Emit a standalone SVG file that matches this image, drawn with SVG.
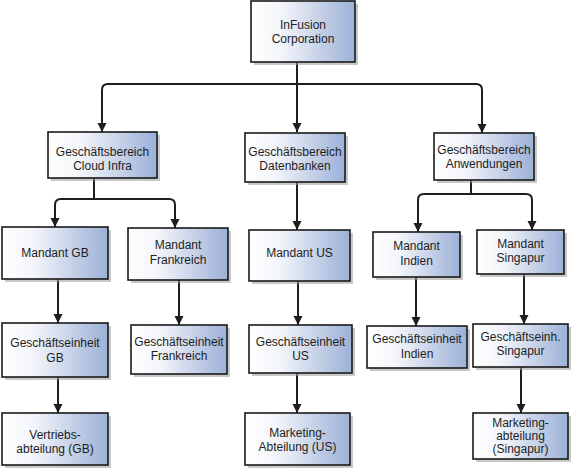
<svg xmlns="http://www.w3.org/2000/svg" width="573" height="473" viewBox="0 0 573 473">
<style>
.box{fill:url(#g);stroke:#1a1a1a;stroke-width:1.6}
.sh{fill:#9a9a9a;opacity:0.55}
.t{font-family:"Liberation Sans",Arial,sans-serif;font-size:12px;fill:#1e1e1e;text-anchor:middle}
.c{fill:none;stroke:#1e1e1e;stroke-width:2;marker-end:url(#a)}
.l{fill:none;stroke:#1e1e1e;stroke-width:2}
</style>
<defs>
<linearGradient id="g" x1="0" y1="0" x2="1" y2="0">
<stop offset="0" stop-color="#ffffff"/>
<stop offset="0.3" stop-color="#f3f5fa"/>
<stop offset="1" stop-color="#9cb0d7"/>
</linearGradient>
<marker id="a" markerUnits="userSpaceOnUse" markerWidth="10" markerHeight="10" refX="9" refY="4.5" orient="auto">
<path d="M0,0 L9,4.5 L0,9 z" fill="#1e1e1e"/>
</marker>
</defs>
<g id="connectors">
<path class="c" d="M297,62 V132"/>
<path class="c" d="M297,84 H108 Q102,84 102,90 V132"/>
<path class="c" d="M297,84 H476 Q482,84 482,90 V133"/>
<path class="l" d="M94,178 V199"/>
<path class="c" d="M94,199 H61 Q55,199 55,205 V227"/>
<path class="c" d="M94,199 H169 Q175,199 175,205 V228"/>
<path class="c" d="M297,182 V230"/>
<path class="l" d="M471,180 V194"/>
<path class="c" d="M471,194 H424 Q418,194 418,200 V232"/>
<path class="c" d="M471,194 H526 Q532,194 532,200 V230"/>
<path class="c" d="M58,279 V323"/>
<path class="c" d="M179,280 V325"/>
<path class="c" d="M298,281 V325"/>
<path class="c" d="M416,277 V326"/>
<path class="c" d="M524,274 V324"/>
<path class="c" d="M58,377 V413"/>
<path class="c" d="M297,373 V413"/>
<path class="c" d="M521,367 V413"/>
</g>
<g id="n-infusion"><rect class="sh" x="254" y="4" width="104" height="61"/><rect class="box" x="251" y="1" width="104" height="61"/><text class="t" x="303" y="29">InFusion</text><text class="t" x="303" y="43">Corporation</text></g>
<g id="n-cloud"><rect class="sh" x="51" y="135" width="109" height="46"/><rect class="box" x="48" y="132" width="109" height="46"/><text class="t" x="102.5" y="156">Geschäftsbereich</text><text class="t" x="102.5" y="170">Cloud Infra</text></g>
<g id="n-datenbanken"><rect class="sh" x="248" y="136" width="100" height="49"/><rect class="box" x="245" y="133" width="100" height="49"/><text class="t" x="295" y="156">Geschäftsbereich</text><text class="t" x="295" y="170">Datenbanken</text></g>
<g id="n-anwendungen"><rect class="sh" x="437" y="136" width="100" height="47"/><rect class="box" x="434" y="133" width="100" height="47"/><text class="t" x="484" y="154">Geschäftsbereich</text><text class="t" x="484" y="168">Anwendungen</text></g>
<g id="n-mandant-gb"><rect class="sh" x="5" y="230" width="106" height="52"/><rect class="box" x="2" y="227" width="106" height="52"/><text class="t" x="55" y="257">Mandant GB</text></g>
<g id="n-mandant-fr"><rect class="sh" x="131" y="231" width="100" height="52"/><rect class="box" x="128" y="228" width="100" height="52"/><text class="t" x="178" y="249">Mandant</text><text class="t" x="178" y="264">Frankreich</text></g>
<g id="n-mandant-us"><rect class="sh" x="252" y="233" width="101" height="51"/><rect class="box" x="249" y="230" width="101" height="51"/><text class="t" x="299.5" y="257">Mandant US</text></g>
<g id="n-mandant-in"><rect class="sh" x="376" y="235" width="87" height="45"/><rect class="box" x="373" y="232" width="87" height="45"/><text class="t" x="416.5" y="250">Mandant</text><text class="t" x="416.5" y="265">Indien</text></g>
<g id="n-mandant-sg"><rect class="sh" x="480" y="233" width="87" height="44"/><rect class="box" x="477" y="230" width="87" height="44"/><text class="t" x="520.5" y="248">Mandant</text><text class="t" x="520.5" y="262">Singapur</text></g>
<g id="n-ge-gb"><rect class="sh" x="5" y="326" width="106" height="54"/><rect class="box" x="2" y="323" width="106" height="54"/><text class="t" x="55" y="347">Geschäftseinheit</text><text class="t" x="55" y="362">GB</text></g>
<g id="n-ge-fr"><rect class="sh" x="134" y="328" width="96" height="49"/><rect class="box" x="131" y="325" width="96" height="49"/><text class="t" x="179" y="346">Geschäftseinheit</text><text class="t" x="179" y="360">Frankreich</text></g>
<g id="n-ge-us"><rect class="sh" x="252" y="328" width="103" height="48"/><rect class="box" x="249" y="325" width="103" height="48"/><text class="t" x="300.5" y="346">Geschäftseinheit</text><text class="t" x="300.5" y="360">US</text></g>
<g id="n-ge-in"><rect class="sh" x="370" y="329" width="100" height="42"/><rect class="box" x="367" y="326" width="100" height="42"/><text class="t" x="417" y="343">Geschäftseinheit</text><text class="t" x="417" y="358">Indien</text></g>
<g id="n-ge-sg"><rect class="sh" x="476" y="327" width="95" height="43"/><rect class="box" x="473" y="324" width="95" height="43"/><text class="t" x="520.5" y="341">Geschäftseinh.</text><text class="t" x="520.5" y="355">Singapur</text></g>
<g id="n-vertrieb-gb"><rect class="sh" x="5" y="416" width="106" height="52"/><rect class="box" x="2" y="413" width="106" height="52"/><text class="t" x="55" y="439">Vertriebs-</text><text class="t" x="55" y="453">abteilung (GB)</text></g>
<g id="n-marketing-us"><rect class="sh" x="248" y="416" width="105" height="52"/><rect class="box" x="245" y="413" width="105" height="52"/><text class="t" x="297.5" y="437">Marketing-</text><text class="t" x="297.5" y="451">Abteilung (US)</text></g>
<g id="n-marketing-sg"><rect class="sh" x="476" y="416" width="95" height="46"/><rect class="box" x="473" y="413" width="95" height="46"/><text class="t" x="520.5" y="427">Marketing-</text><text class="t" x="520.5" y="440">abteilung</text><text class="t" x="520.5" y="453">(Singapur)</text></g>
</svg>
